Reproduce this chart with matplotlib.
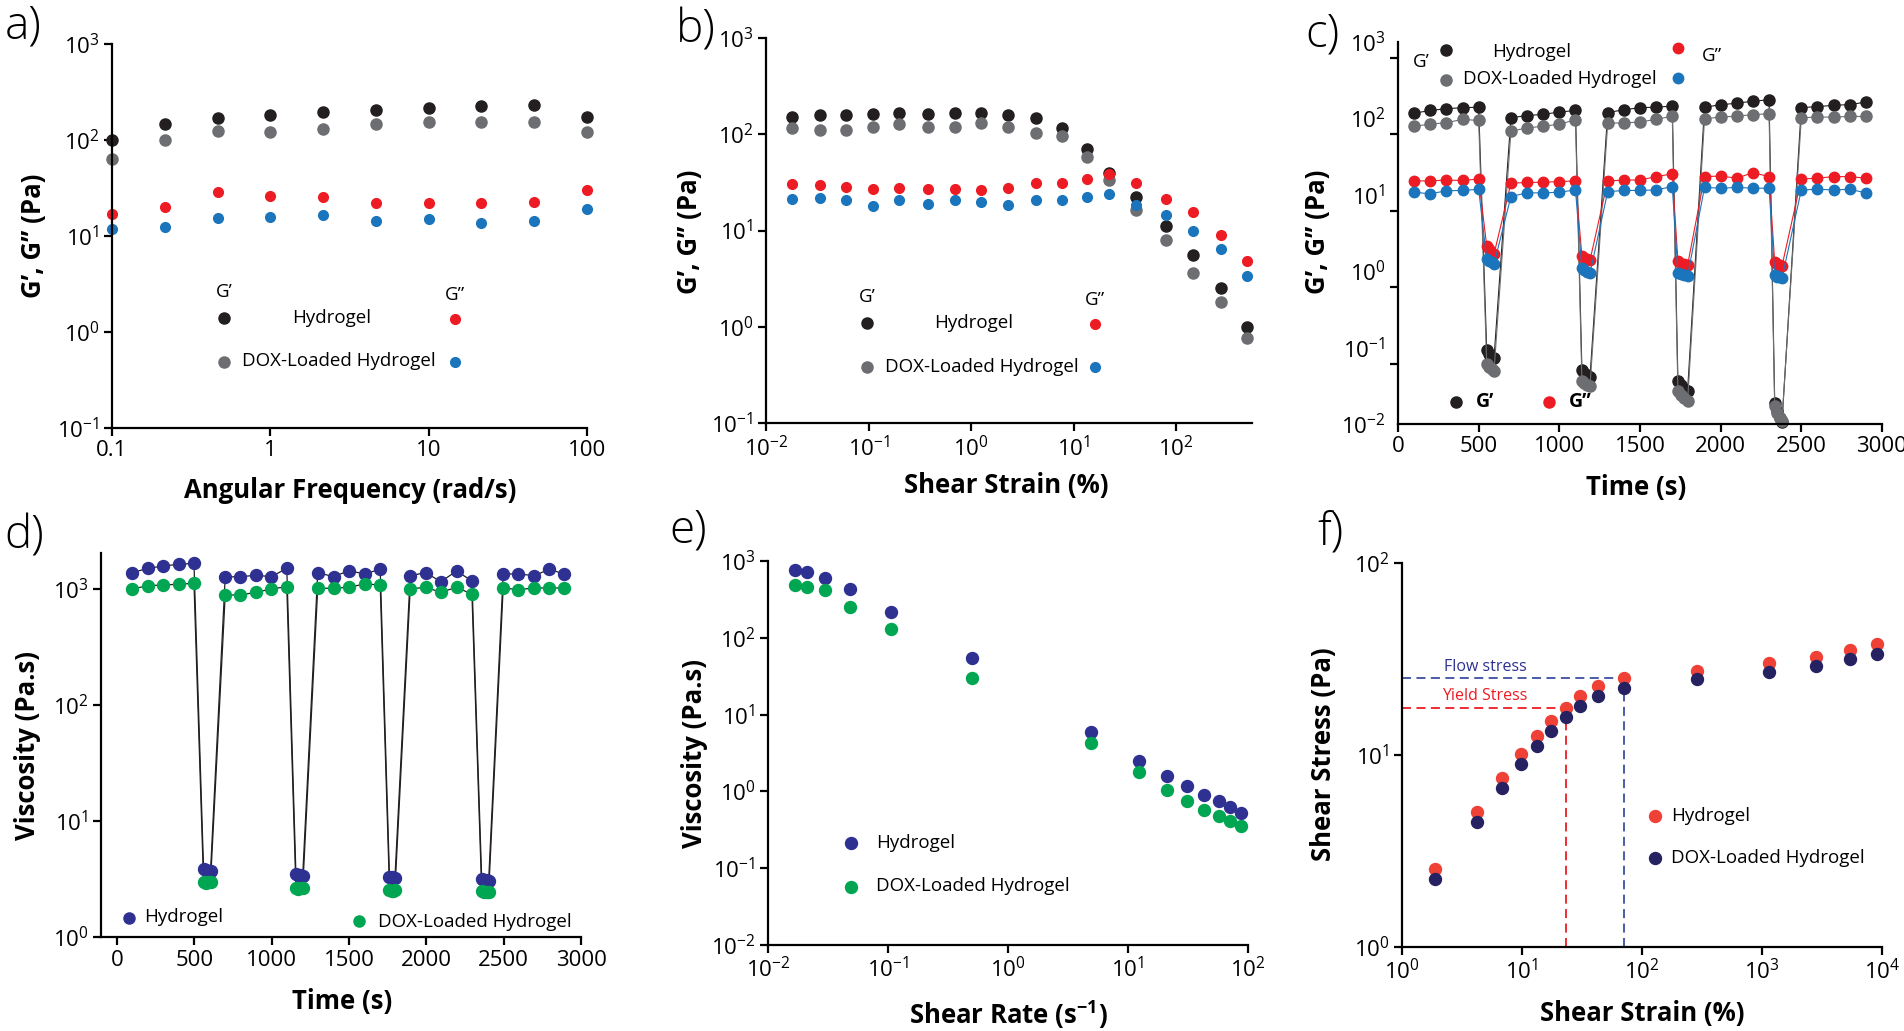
import matplotlib
matplotlib.use('Agg')
import matplotlib.pyplot as plt

plt.rcParams['font.family'] = ['Open Sans', 'DejaVu Sans']
plt.rcParams['mathtext.fontset'] = 'custom'
plt.rcParams['mathtext.rm'] = 'Open Sans'
plt.rcParams['mathtext.bf'] = 'Open Sans:bold'
plt.rcParams['axes.linewidth'] = 1.6

W, H = 1904, 1031

K = '#231f20'
GR = '#6d6e71'
RD = '#ed1c24'
BL = '#1b75bc'
NAVY = '#2e3192'
GRN = '#00a651'
RD2 = '#ef4136'
NAVY2 = '#262262'

# a) frequency sweep
freq = [0.1, 0.215, 0.464, 1.0, 2.15, 4.64, 10, 21.5, 46.4, 100]
a_gp_hyd = [100, 147, 168, 181, 194, 205, 217, 224, 230, 172]
a_gp_dox = [63, 100, 124, 122, 129, 146, 154, 154, 154, 122]
a_gpp_hyd = [17.1, 20.2, 28.9, 26.0, 25.6, 22.2, 22.2, 21.9, 22.4, 29.9]
a_gpp_dox = [11.8, 12.5, 15.4, 15.8, 16.7, 14.3, 15.1, 13.5, 14.5, 19.0]

# b) strain sweep
strain_b = [0.018, 0.034, 0.06, 0.11, 0.2, 0.38, 0.69, 1.26, 2.3, 4.3, 7.7,
            13.5, 22, 41, 79, 145, 275, 490]
b_gp_hyd = [151, 158, 160, 164, 167, 164, 167, 167, 160, 148, 116,
            69.8, 39.5, 22.2, 11.1, 5.5, 2.54, 1.0]
b_gp_dox = [115, 112, 112, 119, 129, 119, 119, 131, 119, 104, 96,
            58, 33.2, 16.4, 7.9, 3.6, 1.8, 0.76]
b_gpp_hyd = [30.1, 29.4, 28.3, 27.2, 27.8, 26.8, 26.8, 26.5, 27.6, 31.1, 31.1,
             34, 38.3, 31.1, 21.4, 15.5, 9.0, 4.8]
b_gpp_dox = [21.0, 22.0, 20.5, 17.9, 20.5, 19.0, 20.5, 19.7, 18.5, 20.9, 20.9,
             22.2, 24.1, 18.2, 14.6, 10.0, 6.4, 3.4]

# c) step strain recovery
time_c = [100, 200, 300, 400, 500, 550, 565, 580, 595,
          700, 800, 900, 1000, 1100, 1140, 1155, 1170, 1190,
          1300, 1400, 1500, 1600, 1700, 1735, 1755, 1775, 1795,
          1900, 2000, 2100, 2200, 2300, 2335, 2350, 2365, 2380,
          2500, 2600, 2700, 2800, 2900]
c_gp_hyd = [117, 127, 134, 138, 140, 0.092, 0.083, 0.073, 0.072,
            102, 109, 113, 121, 127, 0.051, 0.047, 0.044, 0.041,
            119, 130, 138, 140, 145, 0.037, 0.032, 0.029, 0.027,
            140, 151, 158, 168, 175, 0.019, 0.015, 0.012, 0.0105,
            138, 143, 148, 152, 163]
c_gp_dox = [79, 84, 88, 97, 94, 0.061, 0.056, 0.052, 0.049,
            68, 75, 79, 84, 96, 0.036, 0.034, 0.032, 0.031,
            87, 87, 90, 97, 107, 0.027, 0.024, 0.022, 0.020,
            99, 104, 107, 112, 115, 0.017, 0.014, 0.012, 0.011,
            102, 104, 104, 106, 106]
c_gpp_hyd = [15.2, 15.2, 15.6, 15.4, 16.1, 2.13, 1.94, 1.75, 1.67,
             14.2, 14.5, 14.6, 14.9, 15.2, 1.57, 1.47, 1.43, 1.39,
             15.2, 15.6, 15.6, 17.3, 18.8, 1.36, 1.26, 1.24, 1.20,
             17.3, 17.6, 16.5, 19.5, 17.3, 1.30, 1.24, 1.20, 1.17,
             16.1, 16.5, 17.3, 17.3, 16.5]
c_gpp_dox = [10.8, 10.3, 11.3, 11.4, 11.8, 1.43, 1.37, 1.31, 1.24,
             9.5, 10.6, 10.6, 10.8, 11.6, 1.09, 1.03, 0.98, 0.94,
             11.0, 11.4, 11.4, 11.6, 12.8, 0.96, 0.91, 0.89, 0.87,
             12.5, 12.2, 12.5, 12.2, 12.2, 0.89, 0.85, 0.83, 0.81,
             11.6, 11.8, 11.6, 11.8, 10.6]

# d) viscosity recovery
time_d = [99, 200, 298, 400, 498, 560, 575, 590, 605,
          700, 798, 900, 998, 1098, 1157, 1170, 1185, 1201,
          1298, 1401, 1499, 1601, 1702, 1762, 1775, 1785, 1797,
          1896, 1996, 2094, 2196, 2295, 2358, 2370, 2390, 2403,
          2497, 2595, 2698, 2795, 2890]
d_hyd = [1383, 1505, 1578, 1630, 1663, 3.86, 3.8, 3.72, 3.7,
         1269, 1276, 1312, 1276, 1505, 3.49, 3.45, 3.4, 3.38,
         1383, 1276, 1438, 1347, 1479, 3.3, 3.26, 3.22, 3.2,
         1302, 1383, 1156, 1429, 1172, 3.16, 3.12, 3.08, 3.06,
         1347, 1347, 1302, 1479, 1347]
d_dox = [1000, 1067, 1083, 1098, 1120, 2.97, 2.9, 2.95, 2.98,
         888, 888, 936, 1000, 1047, 2.64, 2.6, 2.62, 2.63,
         1014, 1014, 1034, 1104, 1083, 2.55, 2.48, 2.5, 2.52,
         1000, 1034, 936, 1034, 900, 2.5, 2.46, 2.44, 2.42,
         1026, 980, 1026, 1014, 1026]

# e) flow curve
rate_e = [0.0167, 0.0213, 0.0297, 0.0485, 0.105, 0.497, 4.89, 12.4, 21.2,
          31.2, 43.1, 56.8, 71.3, 87.5]
e_hyd = [764, 715, 608, 430, 217, 54, 5.9, 2.5, 1.58, 1.17, 0.91, 0.75, 0.63, 0.53]
e_dox = [492, 464, 417, 253, 131, 30, 4.25, 1.8, 1.03, 0.75, 0.58, 0.48, 0.41, 0.35]

# f) stress vs strain
strain_f = [1.88, 4.18, 6.84, 9.8, 13.3, 17.6, 23.1, 30.7, 42.8, 70.5,
            288, 1138, 2812, 5395, 9036]
f_hyd = [2.54, 5.07, 7.57, 10.1, 12.6, 15.1, 17.6, 20.3, 22.9, 25.2,
         27.5, 30.2, 32.5, 35.2, 37.7]
f_dox = [2.25, 4.5, 6.75, 8.98, 11.2, 13.4, 15.7, 18.0, 20.3, 22.4,
         24.8, 26.9, 29.2, 31.5, 33.7]
yield_idx = 6
flow_idx = 9

fig = plt.figure(figsize=(W / 100, H / 100), dpi=100)


def px_axes(x0, y0, x1, y1):
    return fig.add_axes([x0 / W, 1 - y1 / H, (x1 - x0) / W, (y1 - y0) / H])


def style(ax):
    ax.spines['top'].set_visible(False)
    ax.spines['right'].set_visible(False)
    ax.minorticks_off()
    ax.tick_params(which='major', length=6, width=1.6, direction='out',
                   labelsize=16, pad=3, colors='black')
    ax.patch.set_alpha(0)


def pow_labels(exps):
    return [r'$\mathregular{10^{%d}}$' % e for e in exps]


def ftxt(x, y, s, **kw):
    kw.setdefault('ha', 'center')
    kw.setdefault('va', 'center')
    return fig.text(x / W, 1 - y / H, s, **kw)


LBL = dict(fontsize=18.5, fontweight='bold')
LET = dict(fontsize=33, fontweight='light')
LEG = dict(fontsize=13.5)

# ---------------- a)
ax = px_axes(112, 44, 587, 428)
style(ax)
ax.set_xscale('log'); ax.set_yscale('log')
ax.set_xlim(0.1, 100); ax.set_ylim(0.1, 1000)
ax.set_xticks([0.1, 1, 10, 100], ['0.1', '1', '10', '100'])
ax.set_yticks([10.0 ** k for k in range(-1, 4)], pow_labels(range(-1, 4)))
ax.minorticks_off()
ax.plot(freq, a_gp_hyd, 'o', color=K, ms=8, clip_on=False)
ax.plot(freq, a_gp_dox, 'o', color=GR, ms=8, clip_on=False)
ax.plot(freq, a_gpp_hyd, 'o', color=RD, ms=7, clip_on=False)
ax.plot(freq, a_gpp_dox, 'o', color=BL, ms=7, clip_on=False)

# ---------------- b)
bx = px_axes(766, 38, 1252, 423)
style(bx)
bx.set_xscale('log'); bx.set_yscale('log')
bx.set_xlim(0.01, 10 ** 2.74); bx.set_ylim(0.1, 1000)
bx.set_xticks([10.0 ** k for k in range(-2, 3)], pow_labels(range(-2, 3)))
bx.set_yticks([10.0 ** k for k in range(-1, 4)], pow_labels(range(-1, 4)))
bx.minorticks_off()
bx.plot(strain_b, b_gp_hyd, 'o', color=K, ms=8, clip_on=False)
bx.plot(strain_b, b_gp_dox, 'o', color=GR, ms=8, clip_on=False)
bx.plot(strain_b, b_gpp_hyd, 'o', color=RD, ms=7, clip_on=False)
bx.plot(strain_b, b_gpp_dox, 'o', color=BL, ms=7, clip_on=False)

# ---------------- c)
cx = px_axes(1398, 42, 1882, 424)
style(cx)
cx.set_yscale('log')
cx.set_xlim(0, 3000); cx.set_ylim(0.01, 1000)
cx.set_xticks(range(0, 3001, 500), [str(v) for v in range(0, 3001, 500)])
cx.set_yticks([10.0 ** k for k in range(-2, 4)], pow_labels(range(-2, 4)))
cx.set_yticks([10.0 ** (k - 0.21) for k in range(-1, 4)], minor=True)
cx.tick_params(axis='y', which='major', length=0, pad=9)
cx.tick_params(axis='y', which='minor', length=6, width=1.6)
cx.plot(time_c, c_gp_hyd, '-o', color=K, lw=0.8, ms=8, clip_on=False)
cx.plot(time_c, c_gp_dox, '-o', color=GR, lw=0.8, ms=8, clip_on=False)
cx.plot(time_c, c_gpp_hyd, '-o', color=RD, lw=0.8, ms=7.5, clip_on=False)
cx.plot(time_c, c_gpp_dox, '-o', color=BL, lw=0.8, ms=7.5, clip_on=False)

# ---------------- d)
dx = px_axes(101, 553, 581, 937)
style(dx)
dx.set_yscale('log')
dx.set_xlim(-103, 3000); dx.set_ylim(1, 10 ** 3.31)
dx.set_xticks(range(0, 3001, 500), [str(v) for v in range(0, 3001, 500)])
dx.set_yticks([10.0 ** k for k in range(0, 4)], pow_labels(range(0, 4)))
dx.minorticks_off()
dx.plot(time_d, d_hyd, '-', color=K, lw=0.9, zorder=1)
dx.plot(time_d, d_dox, '-', color=K, lw=0.9, zorder=1)
dx.plot(time_d, d_hyd, 'o', color=NAVY, ms=8.6, zorder=3, clip_on=False)
dx.plot(time_d, d_dox, 'o', color=GRN, ms=8.6, zorder=3, clip_on=False)

# ---------------- e)
ex = px_axes(768, 561, 1248, 945)
style(ex)
ex.set_xscale('log'); ex.set_yscale('log')
ex.set_xlim(0.01, 100); ex.set_ylim(0.01, 1000)
ex.set_xticks([10.0 ** k for k in range(-2, 3)], pow_labels(range(-2, 3)))
ex.set_yticks([10.0 ** k for k in range(-2, 4)], pow_labels(range(-2, 4)))
ex.minorticks_off()
ex.plot(rate_e, e_hyd, 'o', color=NAVY, ms=8.6, clip_on=False)
ex.plot(rate_e, e_dox, 'o', color=GRN, ms=8.6, clip_on=False)

# ---------------- f)
fx = px_axes(1402, 563, 1882, 947)
style(fx)
fx.set_xscale('log'); fx.set_yscale('log')
fx.set_xlim(1, 1e4); fx.set_ylim(1, 100)
fx.set_xticks([10.0 ** k for k in range(0, 5)], pow_labels(range(0, 5)))
fx.set_yticks([10.0 ** k for k in range(0, 3)], pow_labels(range(0, 3)))
fx.minorticks_off()
ys, yv = strain_f[yield_idx], f_hyd[yield_idx]
fs, fv = strain_f[flow_idx], f_hyd[flow_idx]
fx.plot([1, ys], [yv, yv], '--', color=RD, lw=1.3, dashes=(5, 3))
fx.plot([ys, ys], [1, yv], '--', color=RD, lw=1.3, dashes=(5, 3))
fx.plot([1, fs], [fv, fv], '--', color='#3b4fa0', lw=1.3, dashes=(5, 3))
fx.plot([fs, fs], [1, fv], '--', color='#3b4fa0', lw=1.3, dashes=(5, 3))
fx.plot(strain_f, f_hyd, 'o', color=RD2, ms=8.6, zorder=3, clip_on=False)
fx.plot(strain_f, f_dox, 'o', color=NAVY2, ms=8.6, zorder=3, clip_on=False)
ftxt(1485, 667, 'Flow stress', fontsize=11.5, color=NAVY)
ftxt(1485, 696, 'Yield Stress', fontsize=11.5, color=RD)

# ---------------- panel letters and axis titles
for x, y, s in [(23, 27, 'a)'), (696, 30, 'b)'), (1322, 35, 'c)'),
                (24, 537, 'd)'), (688, 530, 'e)'), (1330, 533, 'f)')]:
    ftxt(x, y, s, **LET)

ftxt(350, 490, 'Angular Frequency (rad/s)', **LBL)
ftxt(1006, 485, 'Shear Strain (%)', **LBL)
ftxt(1636, 487, 'Time (s)', **LBL)
ftxt(342, 1002, 'Time (s)', **LBL)
ftxt(1008, 1015, r'Shear Rate (s$^{\mathbf{-1}}$)', **LBL)
ftxt(1642, 1013, 'Shear Strain (%)', **LBL)

ftxt(33, 236, 'G\u2019, G\u2019\u2019 (Pa)', rotation=90, **LBL)
ftxt(689, 232, 'G\u2019, G\u2019\u2019 (Pa)', rotation=90, **LBL)
ftxt(1317, 232, 'G\u2019, G\u2019\u2019 (Pa)', rotation=90, **LBL)
ftxt(28, 745, 'Viscosity (Pa.s)', rotation=90, **LBL)
ftxt(694, 753, 'Viscosity (Pa.s)', rotation=90, **LBL)
ftxt(1324, 754, 'Shear Stress (Pa)', rotation=90, **LBL)

# ---------------- hand-placed legends (pixel overlay)
ov = fig.add_axes([0, 0, 1, 1])
ov.set_xlim(0, W); ov.set_ylim(H, 0)
ov.axis('off')


def dot(x, y, c, ms=8):
    ov.plot([x], [y], 'o', color=c, ms=ms)


# a legend
ftxt(224, 292, 'G\u2019', **LEG)
dot(224, 318, K); ftxt(332, 318, 'Hydrogel', **LEG)
ftxt(455, 295, 'G\u201d', **LEG)
dot(455, 319, RD, 7)
dot(224, 362, GR); ftxt(242, 361, 'DOX-Loaded Hydrogel', ha='left', **LEG)
dot(455, 362, BL, 7)

# b legend
ftxt(867, 297, 'G\u2019', **LEG)
dot(867, 323, K); ftxt(974, 323, 'Hydrogel', **LEG)
dot(867, 367, GR); ftxt(885, 367, 'DOX-Loaded Hydrogel', ha='left', **LEG)
ftxt(1095, 300, 'G\u201d', **LEG)
dot(1095, 324, RD, 7)
dot(1095, 367, BL, 7)

# c legends
ftxt(1421, 62, 'G\u2019', **LEG)
dot(1446, 50, K); ftxt(1532, 52, 'Hydrogel', **LEG)
dot(1678, 48, RD, 7.5); ftxt(1712, 56, 'G\u201d', **LEG)
dot(1446, 80, GR); ftxt(1463, 79, 'DOX-Loaded Hydrogel', ha='left', **LEG)
dot(1678, 78, BL, 7.5)
dot(1456, 402, K); ftxt(1476, 402, 'G\u2019', ha='left', fontsize=14, fontweight='bold')
dot(1549, 402, RD); ftxt(1569, 402, 'G\u201d', ha='left', fontsize=14, fontweight='bold')

# d legend
dot(129, 918, NAVY); ftxt(144, 917, 'Hydrogel', ha='left', **LEG)
dot(359, 921, GRN); ftxt(378, 922, 'DOX-Loaded Hydrogel', ha='left', **LEG)

# e legend
dot(851, 843, NAVY, 8.6); ftxt(876, 843, 'Hydrogel', ha='left', **LEG)
dot(851, 887, GRN, 8.6); ftxt(876, 886, 'DOX-Loaded Hydrogel', ha='left', **LEG)

# f legend
dot(1655, 816, RD2, 8.6); ftxt(1671, 816, 'Hydrogel', ha='left', **LEG)
dot(1655, 858, NAVY2, 8.6); ftxt(1671, 858, 'DOX-Loaded Hydrogel', ha='left', **LEG)

fig.savefig('out.png', dpi=100)
